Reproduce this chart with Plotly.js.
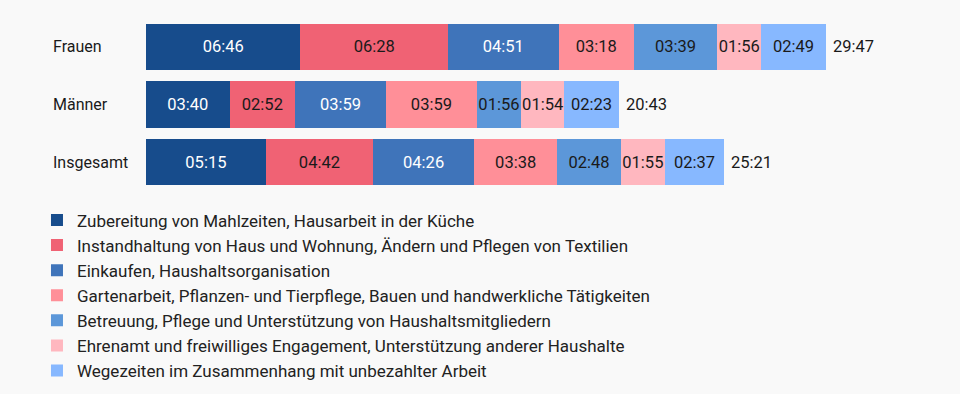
<!DOCTYPE html>
<html>
<head>
<meta charset="utf-8">
<script src="https://cdn.plot.ly/plotly-3.0.1.min.js"></script>
<style>
  html, body { margin: 0; padding: 0; background: #f9f9f9; }
  #chart { width: 960px; height: 394px; }
</style>
</head>
<body>
<div id="chart"></div>
<script>
// Categories (rows)
const categories = ["Frauen", "Männer", "Insgesamt"];

// Series names (legend)
const seriesNames = [
  "Zubereitung von Mahlzeiten, Hausarbeit in der Küche",
  "Instandhaltung von Haus und Wohnung, Ändern und Pflegen von Textilien",
  "Einkaufen, Haushaltsorganisation",
  "Gartenarbeit, Pflanzen- und Tierpflege, Bauen und handwerkliche Tätigkeiten",
  "Betreuung, Pflege und Unterstützung von Haushaltsmitgliedern",
  "Ehrenamt und freiwilliges Engagement, Unterstützung anderer Haushalte",
  "Wegezeiten im Zusammenhang mit unbezahlter Arbeit"
];

// Values per series (hh:mm per week), order: Frauen, Männer, Insgesamt
const zubereitung    = ["06:46", "03:40", "05:15"];
const instandhaltung = ["06:28", "02:52", "04:42"];
const einkaufen      = ["04:51", "03:59", "04:26"];
const gartenarbeit   = ["03:18", "03:59", "03:38"];
const betreuung      = ["03:39", "01:56", "02:48"];
const ehrenamt       = ["01:56", "01:54", "01:55"];
const wegezeiten     = ["02:49", "02:23", "02:37"];

// Totals labels
const totals = ["29:47", "20:43", "25:21"];

const seriesValues = [zubereitung, instandhaltung, einkaufen, gartenarbeit, betreuung, ehrenamt, wegezeiten];
const colors = ["#174c8c", "#f06274", "#3f74ba", "#ff8f98", "#5c97d9", "#ffb7bf", "#87b8ff"];
const textColors = ["#ffffff", "#1a1a1a", "#ffffff", "#1a1a1a", "#1a1a1a", "#1a1a1a", "#1a1a1a"];

function toMin(s) { const p = s.split(":"); return parseInt(p[0], 10) * 60 + parseInt(p[1], 10); }

const FONT = "Roboto, 'Open Sans', sans-serif";

const traces = seriesValues.map((vals, i) => ({
  type: "bar",
  orientation: "h",
  name: seriesNames[i],
  y: categories,
  x: vals.map(toMin),
  text: vals,
  texttemplate: "%{text}",
  textposition: "inside",
  insidetextanchor: "middle",
  constraintext: "none",
  textangle: 0,
  textfont: { family: FONT, size: 16.5, color: textColors[i] },
  marker: { color: colors[i], line: { width: 0 } },
  legendgroup: "g" + i,
  hoverinfo: "skip"
}));

const rowLabels = categories.map(c => ({
  xref: "paper", yref: "y",
  x: 0, y: c,
  xanchor: "left", yanchor: "middle",
  xshift: -95,
  text: c,
  showarrow: false,
  font: { family: FONT, size: 16, color: "#1a1a1a" }
}));

const totalLabels = categories.map((c, i) => ({
  xref: "x", yref: "y",
  x: toMin(totals[i]), y: c,
  xanchor: "left", yanchor: "middle",
  xshift: 5,
  text: totals[i],
  showarrow: false,
  font: { family: FONT, size: 16.5, color: "#1a1a1a" }
}));

const layout = {
  width: 960, height: 394,
  paper_bgcolor: "#f9f9f9",
  plot_bgcolor: "#f9f9f9",
  margin: { l: 146, r: 20, t: 17.5, b: 202.5, autoexpand: false },
  barmode: "stack",
  bargap: 0.2,
  showlegend: true,
  legend: {
    orientation: "v",
    x: -0.1373, xanchor: "left",
    y: -0.066, yanchor: "top",
    traceorder: "normal",
    tracegroupgap: 0,
    font: { family: FONT, size: 17, color: "#222222" },
    bgcolor: "rgba(0,0,0,0)"
  },
  xaxis: {
    range: [0, 794 / 0.3803],
    showticklabels: false, showgrid: false, zeroline: false, showline: false,
    fixedrange: true
  },
  yaxis: {
    autorange: "reversed",
    showticklabels: false, showgrid: false, zeroline: false, showline: false,
    fixedrange: true
  },
  annotations: rowLabels.concat(totalLabels),
  font: { family: FONT, size: 16, color: "#1a1a1a" }
};

Plotly.newPlot("chart", traces, layout, { displayModeBar: false, staticPlot: true });
</script>
</body>
</html>
